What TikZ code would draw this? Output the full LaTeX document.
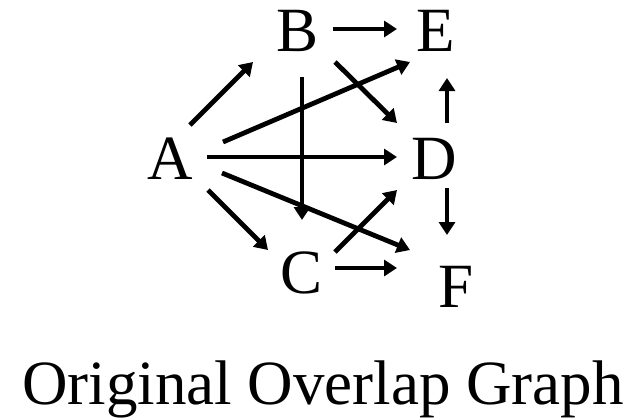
\documentclass[tikz,border=0pt]{standalone}
\usepackage{fontspec}
\setmainfont{Liberation Serif}
\usetikzlibrary{arrows.meta}

\begin{document}
\begin{tikzpicture}[
    x=1pt, y=-1pt,
    vertex/.style={inner sep=0pt, font=\fontsize{63}{70}\selectfont},
    label/.style={inner sep=0pt, anchor=base, font=\fontsize{63}{70}\selectfont},
    edge/.style={-{Triangle[length=13pt, width=16pt]}, line width=4.8pt, color=black}
]
    \useasboundingbox (0,0) rectangle (642,418);

    % Sommets du graphe
    \node[vertex] (A) at (170, 159) {A};
    \node[vertex] (B) at (298, 31) {B};
    \node[vertex] (C) at (302, 273) {C};
    \node[vertex] (D) at (434, 159) {D};
    \node[vertex] (E) at (436, 31) {E};
    \node[vertex] (F) at (456, 287) {F};

    % Titre
    \node[label] (title) at (323, 404) {Original Overlap Graph};

    % Arcs
    \draw[edge] ([shift={(20,-34)}]A.center) -- ([shift={(-45,31)}]B.center);
    \draw[edge] ([shift={(53,-17)}]A.center) -- ([shift={(-26,31)}]E.center);
    \draw[edge] ([shift={(37,-2)}]A.center) -- ([shift={(-37,-2)}]D.center);
    \draw[edge] ([shift={(52,14)}]A.center) -- ([shift={(-46,-37)}]F.center);
    \draw[edge] ([shift={(38,31)}]A.center) -- ([shift={(-34,-23)}]C.center);
    \draw[edge] ([shift={(4,46)}]B.center) -- ([shift={(0,-53)}]C.center);
    \draw[edge] ([shift={(35,-2)}]B.center) -- ([shift={(-39,-2)}]E.center);
    \draw[edge] ([shift={(37,31)}]B.center) -- ([shift={(-37,-36)}]D.center);
    \draw[edge] ([shift={(33,-21)}]C.center) -- ([shift={(-37,31)}]D.center);
    \draw[edge] ([shift={(33,-5)}]C.center) -- ([shift={(-59,-19)}]F.center);
    \draw[edge] ([shift={(13,-36)}]D.center) -- ([shift={(11,47)}]E.center);
    \draw[edge] ([shift={(13,29)}]D.center) -- ([shift={(-9,-52)}]F.center);

\end{tikzpicture}
\end{document}
